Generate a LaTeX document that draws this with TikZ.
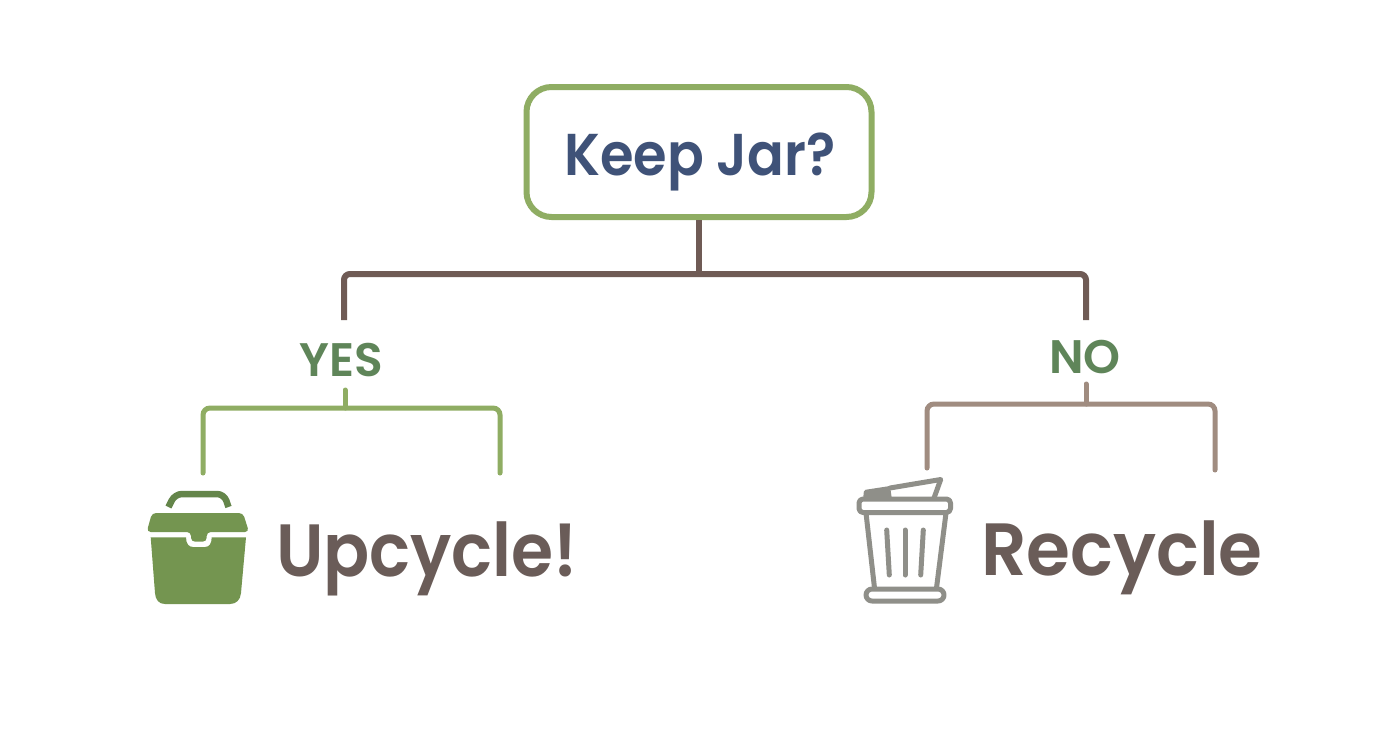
\documentclass[tikz,border=0pt]{standalone}
\usepackage{fontspec}
\setmainfont{Poppins SemiBold}
\definecolor{boxgreen}{HTML}{8FAD63}
\definecolor{navy}{HTML}{3F5278}
\definecolor{trunk}{HTML}{6F5B55}
\definecolor{labelgreen}{HTML}{5F8559}
\definecolor{iconfill}{HTML}{749550}
\definecolor{handlefill}{HTML}{64854A}
\definecolor{notag}{HTML}{A08C80}
\definecolor{binc}{HTML}{8F8F89}
\definecolor{wordc}{HTML}{6A5C58}
\tikzset{
  question/.style={draw=boxgreen,line width=6pt,rounded corners=25pt,fill=white,minimum width=345pt,minimum height=130pt,inner sep=0pt},
  qtext/.style={text=navy,font=\fontsize{59}{61}\selectfont,inner sep=0pt,anchor=base},
  trunkline/.style={draw=trunk,line width=6pt,rounded corners=6pt},
  yesline/.style={draw=boxgreen,line width=5pt,rounded corners=7pt,line cap=round},
  noline/.style={draw=notag,line width=5pt,rounded corners=7pt,line cap=round},
  branchlabel/.style={text=labelgreen,font=\fontsize{47}{49}\selectfont,inner sep=0pt,anchor=base},
  word/.style={text=wordc,font=\fontsize{74}{76}\selectfont,inner sep=0pt,anchor=base west},
  binline/.style={draw=binc,line width=5pt,line cap=round,line join=round},
}
\begin{document}
\begin{tikzpicture}[x=1pt,y=-1pt]
\useasboundingbox (0,0) rectangle (1392,752);
\fill[white] (0,0) rectangle (1392,752);
\node[question] (q) at (699,152) {};
\node[qtext] (qt) at (700,175.5) {\scalebox{0.92}[1]{Keep Jar?}};
\coordinate (j) at (699,274);
\coordinate (tl) at (344,320);
\coordinate (tr) at (1086,320);
\draw[trunkline] (q.south) -- (j);
\draw[trunkline] (tl) -- (344,274) -- (1086,274) -- (tr);
\node[branchlabel] (yes) at (341,376) {YES};
\node[branchlabel] (no) at (1085,373) {NO};
\coordinate (yl) at (203,473);
\coordinate (yr) at (500,473);
\coordinate (ys) at (345,390);
\coordinate (yj) at (345,408);
\coordinate (nl) at (927,468);
\coordinate (nr) at (1215,470);
\coordinate (ns) at (1086,384);
\coordinate (nj) at (1086,404);
\draw[yesline] (ys) -- (yj);
\draw[yesline] (yl) -- (203,408) -- (500,408) -- (yr);
\draw[noline] (ns) -- (nj);
\draw[noline] (nl) -- (927,404) -- (1215,404) -- (nr);
% bucket
\draw[handlefill,line width=6.5pt,rounded corners=7pt] (168.5,507) -- (175,494) -- (224,494) -- (228.5,507);
\fill[iconfill,rounded corners=4pt] (146.7,532) -- (152,513) -- (243,513) -- (249,532) -- (206.7,532) -- (206.7,541.7) -- (191,541.7) -- (191,532) -- cycle;
\fill[iconfill] (150.7,537.3) -- (186,537.3)
  .. controls (186,544) and (189,547) .. (193,547) -- (205,547) .. controls (209,547) and (211.7,544) .. (211.7,537.3)
  -- (246,537.3) -- (241,593) .. controls (240.5,600) and (236,604) .. (230,604)
  -- (165,604) .. controls (159,604) and (155.5,600) .. (155,593) -- cycle;
\node[word] (up) at (276,576) {\scalebox{0.92}[1]{Upcycle!}};
% bin
\fill[binc,rounded corners=1.5pt] (864,490) -- (890,486) -- (892,500) -- (863,500) -- cycle;
\draw[binline] (890,488) -- (940.7,479.5) -- (934,498);
\draw[binline,fill=white,rounded corners=4pt] (859,499) rectangle (950.5,512.5);
\draw[binline] (866,513) -- (874.5,588);
\draw[binline] (946,513) -- (936.5,588);
\draw[binline,fill=white,rounded corners=6pt] (866,589) rectangle (944,601);
\draw[binline] (886.7,530) -- (889.3,575);
\draw[binline] (905,530) -- (905,575);
\draw[binline] (923.3,530) -- (920.7,575);
\node[word] (re) at (981,575) {\scalebox{0.96}[1]{Recycle}};
\end{tikzpicture}
\end{document}
